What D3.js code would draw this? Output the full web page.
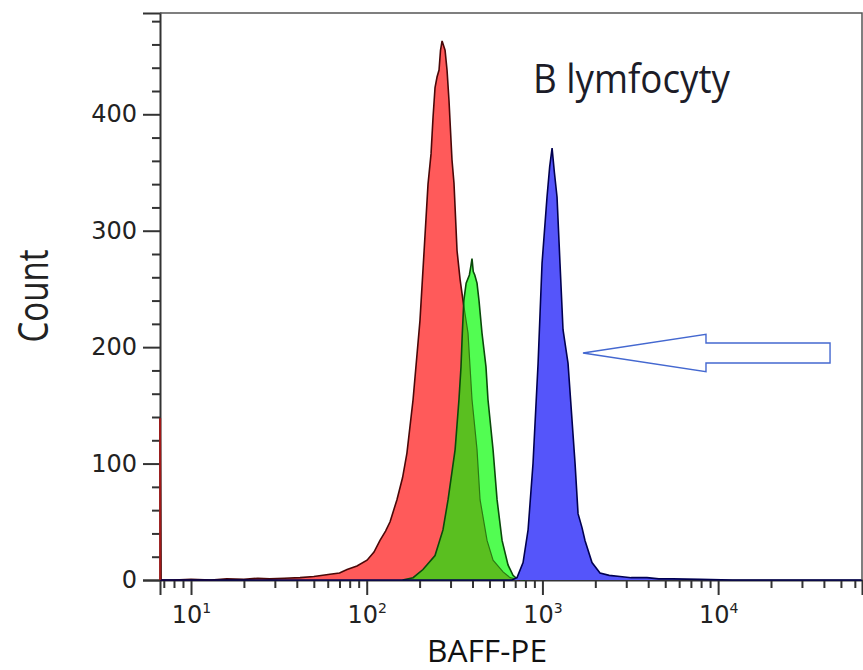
<!DOCTYPE html>
<html>
<head>
<meta charset="utf-8">
<script src="https://cdn.jsdelivr.net/npm/d3@7"></script>
<style>
  body { margin: 0; background: #fff; }
  svg { display: block; }
</style>
</head>
<body>
<svg id="chart"></svg>
<script>
// values (fluorescence value, count)
let redX = [6.67, 6.75, 8, 10, 13, 16, 20, 24, 28, 34, 41.7, 50, 61.8, 70, 77.3, 88, 100.4, 110, 119, 128, 135.8, 148.6, 160, 169.4, 183.6, 201, 212, 223.3, 232.3, 238.4, 244.8, 251.3, 258, 263, 268.5, 279.2, 286.5, 293.9, 305.7, 313.8, 326.6, 340, 353.2, 377.2, 387.3, 397.4, 424.4, 441.6, 484, 523.6, 597, 654.6, 746]
let redCount = [139, 0, 0, 0.5, 0, 1, 0.5, 1.5, 1, 1.5, 2, 3, 5, 6, 9, 12, 17, 24, 34, 42, 50, 69, 88, 109, 155, 223, 282, 340, 366, 397, 423, 432, 438, 455, 463, 455, 438, 412, 361, 341, 283, 258, 240, 212, 183, 155, 112, 69, 34, 17, 7, 2, 0]

let greenX = [160, 183.6, 209, 244.8, 271.6, 290.4, 318.5, 335, 344, 350, 357, 368, 384, 392, 397.4, 404, 412, 424.4, 435.6, 453, 477.3, 489.9, 523.6, 551.9, 589.3, 637, 680.2, 716.9, 796]
let greenCount = [0, 2, 9, 21, 43, 69, 112, 155, 183, 212, 240, 255, 262, 270, 276, 265, 262, 255, 240, 212, 183, 155, 112, 69, 34, 13, 4, 1, 0]

let blueX = [6.67, 671, 716.9, 776, 828.6, 884, 944.6, 995, 1062, 1100, 1135, 1170, 1211, 1259, 1310, 1399, 1534, 1595, 1680, 1747, 1915, 2127, 2400, 2765, 3200, 3938, 4600, 5533, 7885, 12000, 65900]
let blueCount = [0, 0, 2, 15, 43, 100, 186, 272, 329, 355, 371, 350, 329, 272, 215, 186, 100, 57, 45, 34, 15, 6, 4, 3, 2, 2, 1, 1, 0.5, 0, 0]

let yMajor = [0, 100, 200, 300, 400]
let yMinor = [20, 40, 60, 80, 120, 140, 160, 180, 220, 240, 260, 280, 320, 340, 360, 380, 420, 440, 460, 480]
let xMajor = [10, 100, 1000, 10000]
let xExp = ["1", "2", "3", "4"]
let xMinorMult = [2, 3, 4, 5, 6, 7, 8, 9]

// arrow (data units) and labels
let arrowTip = [1702, 195]
let arrowHeadX = 8530
let arrowTailX = 43350
let shaftHalf = 8.6
let headHalf = 16
let title = "B lymfocyty"
let titlePos = [883, 418]

let width = 863
let height = 670
let margin = { left: 160, top: 13, right: 1, bottom: 90 }

let svg = d3.select("#chart").attr("width", width).attr("height", height)

let x = d3.scaleLog().domain([6.66, 65900]).range([margin.left, width - margin.right])
let y = d3.scaleLinear().domain([0, 487]).range([height - margin.bottom, margin.top])

let defs = svg.append("defs")
defs.append("clipPath").attr("id", "plotClip")
    .append("rect")
    .attr("x", margin.left - 1).attr("y", margin.top)
    .attr("width", width - margin.left - margin.right + 1)
    .attr("height", height - margin.top - margin.bottom + 1)

// axes
let yAxisG = svg.append("g")
    .attr("transform", `translate(${margin.left},0)`)
    .call(d3.axisLeft(y).tickValues(yMajor).tickSize(17).tickPadding(6))
let yMinorG = svg.append("g")
    .attr("transform", `translate(${margin.left},0)`)
    .call(d3.axisLeft(y).tickValues(yMinor).tickSize(8).tickFormat(""))

let minors = []
xMajor.concat([1]).forEach(p => {
    xMinorMult.forEach(m => {
        let v = p * m
        if (v > x.domain()[0] && v < x.domain()[1]) minors.push(v)
    })
})
let xMinorG = svg.append("g")
    .attr("transform", `translate(0,${y(0)})`)
    .call(d3.axisBottom(x).tickValues(minors).tickSize(8).tickFormat(""))
let xAxisG = svg.append("g")
    .attr("transform", `translate(0,${y(0)})`)
    .call(d3.axisBottom(x).tickValues(xMajor).tickSize(15).tickFormat(""))

xAxisG.selectAll(".tick").append("text")
    .attr("y", 43)
    .attr("text-anchor", "middle")
    .attr("fill", "#222")
    .style("font-family", "DejaVu Sans")
    .style("font-size", "24px")
    .each(function(d, i) {
        let t = d3.select(this)
        t.append("tspan").text("10")
        t.append("tspan").attr("dy", -10).style("font-size", "14px").text(xExp[i])
    })

svg.selectAll(".domain").attr("stroke", "#333").attr("stroke-width", 2)
svg.selectAll(".tick line").attr("stroke", "#333").attr("stroke-width", 2)
yAxisG.selectAll(".tick text")
    .attr("fill", "#222")
    .style("font-family", "DejaVu Sans")
    .style("font-size", "24px")
xMinorG.select(".domain").remove()
yMinorG.select(".domain").remove()

// histograms
function series(xs, cs) {
    return xs.map((v, i) => ({ v: v, c: cs[i] }))
}
let redData = series(redX, redCount)
let greenData = series(greenX, greenCount)
let blueData = series(blueX, blueCount)

let area = d3.area().x(d => x(d.v)).y0(y(0)).y1(d => y(d.c))
let line = d3.line().x(d => x(d.v)).y(d => y(d.c))

let plot = svg.append("g").attr("clip-path", "url(#plotClip)")

defs.append("clipPath").attr("id", "greenClip")
    .append("path").attr("d", area(greenData))

plot.append("path").attr("d", area(redData)).attr("fill", "#ff5a5a")
plot.append("path").attr("d", line(redData))
    .attr("fill", "none").attr("stroke", "#4a0808").attr("stroke-width", 1.6)

plot.append("path").attr("d", area(greenData)).attr("fill", "#52fd52")
// overlap of red under green shows dark green
plot.append("path").attr("d", area(redData))
    .attr("fill", "#5abf20").attr("clip-path", "url(#greenClip)")
plot.append("path").attr("d", line(redData))
    .attr("fill", "none").attr("stroke", "#2c7a12").attr("stroke-width", 1.2)
    .attr("clip-path", "url(#greenClip)")
plot.append("path").attr("d", line(greenData))
    .attr("fill", "none").attr("stroke", "#0a4a0a").attr("stroke-width", 1.6)

plot.append("path").attr("d", area(blueData)).attr("fill", "#5555fa")
plot.append("path").attr("d", line(blueData))
    .attr("fill", "none").attr("stroke", "#000050").attr("stroke-width", 1.6)

// red pile-up at the lowest channel
plot.append("line")
    .attr("x1", x(redX[0])).attr("x2", x(redX[0]))
    .attr("y1", y(0)).attr("y2", y(redCount[0]))
    .attr("stroke", "#a01818").attr("stroke-width", 2)

// frame
svg.append("path")
    .attr("d", `M${x.range()[0]},${y.range()[1]}H${x.range()[1]}V${y(0)}`)
    .attr("fill", "none").attr("stroke", "#555").attr("stroke-width", 1.5)

// arrow
let ay = arrowTip[1]
let arrowPts = [
    [arrowTip[0], ay],
    [arrowHeadX, ay + headHalf],
    [arrowHeadX, ay + shaftHalf],
    [arrowTailX, ay + shaftHalf],
    [arrowTailX, ay - shaftHalf],
    [arrowHeadX, ay - shaftHalf],
    [arrowHeadX, ay - headHalf]
]
svg.append("polygon")
    .attr("points", arrowPts.map(p => [x(p[0]), y(p[1])].join(",")).join(" "))
    .attr("fill", "none").attr("stroke", "#4468d0").attr("stroke-width", 1.4)

// texts
svg.append("text")
    .attr("x", x(titlePos[0])).attr("y", y(titlePos[1]))
    .attr("textLength", 197).attr("lengthAdjust", "spacingAndGlyphs")
    .attr("fill", "#1c1c28")
    .style("font-family", "Open Sans").style("font-size", "40px")
    .text(title)

svg.append("text")
    .attr("transform", "translate(48,296) rotate(-90)")
    .attr("text-anchor", "middle")
    .attr("textLength", 93).attr("lengthAdjust", "spacingAndGlyphs")
    .attr("fill", "#222")
    .style("font-family", "Open Sans").style("font-size", "42px")
    .text("Count")

svg.append("text")
    .attr("x", 487).attr("y", 662)
    .attr("text-anchor", "middle")
    .attr("textLength", 120).attr("lengthAdjust", "spacingAndGlyphs")
    .attr("fill", "#111")
    .style("font-family", "Open Sans").style("font-size", "31px")
    .text("BAFF-PE")
</script>
</body>
</html>
